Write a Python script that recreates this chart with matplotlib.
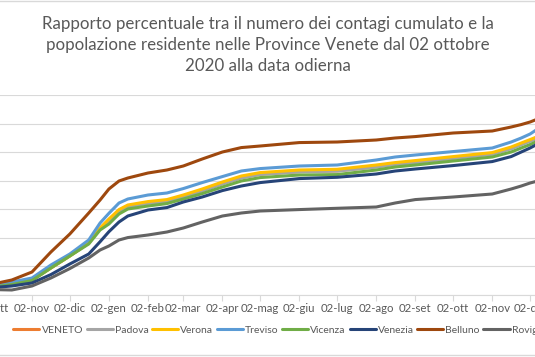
import matplotlib
matplotlib.use("Agg")
import matplotlib.pyplot as plt
from matplotlib.patches import Rectangle
import pandas as pd

plt.rcParams['font.family'] = ['Lato', 'DejaVu Sans']

title = ("Rapporto percentuale tra il numero dei contagi cumulato e la\n"
         "popolazione residente nelle Province Venete dal 02 ottobre\n"
         "2020 alla data odierna")

dates = ["2020-10-02", "2020-10-17", "2020-11-02", "2020-11-17", "2020-12-02",
         "2020-12-17", "2020-12-26", "2021-01-02", "2021-01-10", "2021-01-17",
         "2021-02-02", "2021-02-17",
         "2021-03-02", "2021-03-17", "2021-04-02", "2021-04-17", "2021-05-02",
         "2021-06-02", "2021-07-02", "2021-08-02", "2021-08-17", "2021-09-02",
         "2021-10-02", "2021-11-02", "2021-11-17", "2021-11-25", "2021-12-02",
         "2021-12-08"]

veneto  = [0.57, 0.77, 1.05, 1.90, 2.74, 3.64, 4.65, 5.25, 5.92, 6.22, 6.45, 6.58,
           6.90, 7.32, 7.80, 8.22, 8.46, 8.64, 8.69, 8.99, 9.17, 9.31, 9.59, 9.88,
           10.28, 10.56, 10.80, 11.00]
padova  = [0.55, 0.76, 1.04, 1.90, 2.75, 3.65, 4.66, 5.25, 5.88, 6.18, 6.42, 6.56,
           6.88, 7.30, 7.78, 8.20, 8.44, 8.62, 8.67, 8.96, 9.14, 9.28, 9.56, 9.85,
           10.24, 10.52, 10.77, 10.98]
verona  = [0.56, 0.77, 1.05, 1.89, 2.73, 3.64, 4.69, 5.32, 5.98, 6.30, 6.54, 6.68,
           7.00, 7.42, 7.91, 8.33, 8.57, 8.75, 8.80, 9.10, 9.27, 9.41, 9.69, 9.97,
           10.36, 10.64, 10.88, 11.09]
treviso = [0.63, 0.91, 1.19, 2.10, 2.87, 3.85, 5.04, 5.72, 6.44, 6.72, 7.00, 7.14,
           7.45, 7.87, 8.29, 8.68, 8.85, 9.03, 9.10, 9.45, 9.66, 9.80, 10.04, 10.29,
           10.71, 10.99, 11.27, 11.62]
vicenza = [0.56, 0.73, 1.01, 1.89, 2.73, 3.57, 4.55, 4.97, 5.67, 6.02, 6.23, 6.40,
           6.72, 7.10, 7.56, 7.98, 8.22, 8.40, 8.43, 8.75, 8.96, 9.10, 9.38, 9.66,
           10.01, 10.29, 10.53, 10.78]
venezia = [0.52, 0.63, 0.84, 1.43, 2.17, 2.87, 3.73, 4.43, 5.11, 5.53, 5.95, 6.12,
           6.51, 6.86, 7.31, 7.63, 7.87, 8.15, 8.24, 8.47, 8.68, 8.82, 9.06, 9.34,
           9.69, 10.01, 10.29, 10.57]
belluno = [0.77, 1.05, 1.61, 3.01, 4.27, 5.74, 6.65, 7.42, 7.98, 8.19, 8.54, 8.75,
           9.03, 9.52, 10.01, 10.32, 10.43, 10.67, 10.71, 10.85, 10.99, 11.09, 11.34, 11.48,
           11.76, 11.93, 12.11, 12.32]
rovigo  = [0.38, 0.35, 0.63, 1.19, 1.85, 2.59, 3.15, 3.43, 3.85, 4.02, 4.20, 4.41,
           4.69, 5.11, 5.53, 5.74, 5.88, 5.98, 6.07, 6.16, 6.44, 6.68, 6.86, 7.07,
           7.42, 7.63, 7.84, 7.98]

series_names = ["VENETO", "Padova", "Verona", "Treviso", "Vicenza", "Venezia", "Belluno", "Rovigo"]
series_vals = [veneto, padova, verona, treviso, vicenza, venezia, belluno, rovigo]
colors = ["#ED7D31", "#A5A5A5", "#FFC000", "#5B9BD5", "#70AD47", "#264478", "#9E480E", "#636363"]

tick_dates = ["2020-10-02", "2020-11-02", "2020-12-02", "2021-01-02", "2021-02-02",
              "2021-03-02", "2021-04-02", "2021-05-02", "2021-06-02", "2021-07-02",
              "2021-08-02", "2021-09-02", "2021-10-02", "2021-11-02", "2021-12-02"]
tick_labels = ["02-ott", "02-nov", "02-dic", "02-gen", "02-feb", "02-mar", "02-apr",
               "02-mag", "02-giu", "02-lug", "02-ago", "02-set", "02-ott", "02-nov", "02-dic"]
y_ticks = [0, 2, 4, 6, 8, 10, 12, 14]

W, H = 535, 357
fig = plt.figure(figsize=(W / 100, H / 100), dpi=100)

# chart border (only top/bottom visible, sides cropped)
fig.add_artist(Rectangle((-0.05, 2 / H), 1.1, 1 - 3 / H, transform=fig.transFigure,
                         fill=False, edgecolor="#D9D9D9", lw=1.0))

px_per_day = 1.261
x0_px = -7.1
d0 = pd.Timestamp("2020-10-02")
d1 = pd.Timestamp("2021-12-08")
ndays = (d1 - d0).days
ax = fig.add_axes([x0_px / W, (H - 295) / H, ndays * px_per_day / W, 200 / H])

x = pd.to_datetime(dates)
for name, vals, c in zip(series_names, series_vals, colors):
    ax.plot(x, vals, color=c, lw=2.2, label=name, solid_capstyle="round",
            solid_joinstyle="round")

ax.set_xlim(d0, d1)
ax.set_ylim(0, 14)
ax.set_yticks(y_ticks)
ax.set_yticklabels([f"{v}%" for v in y_ticks])
ax.set_xticks(pd.to_datetime(tick_dates))
ax.set_xticklabels(tick_labels)
ax.grid(axis="y", color="#D9D9D9", lw=0.8)
ax.set_axisbelow(True)
for s in ["top", "right", "left"]:
    ax.spines[s].set_visible(False)
ax.spines["bottom"].set_color("#D9D9D9")
ax.spines["bottom"].set_linewidth(0.8)
ax.tick_params(axis="x", colors="#595959", labelsize=8.2, length=4, color="#D9D9D9", pad=1.5)
ax.tick_params(axis="y", colors="#595959", labelsize=8.2, length=0)

fig.text(0.5, 1 - 45 / H, title, ha="center", va="center", fontsize=12.2,
         color="#595959", linespacing=1.35)

fig.legend(*ax.get_legend_handles_labels(), loc="center", bbox_to_anchor=(0.52, 1 - 330 / H),
           ncol=8, frameon=False, fontsize=7.5, labelcolor="#595959",
           handlelength=2.5, handletextpad=0.2, columnspacing=0.35)

fig.savefig("out.png", dpi=100)
